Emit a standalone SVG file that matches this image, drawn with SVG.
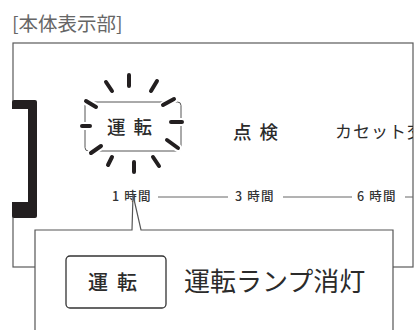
<svg xmlns="http://www.w3.org/2000/svg" width="417" height="330" viewBox="0 0 417 330">
<style>
text{font-family:"Noto Sans CJK JP","Noto Sans",sans-serif;fill:#2b2b2b}
.frame{fill:#fff;stroke:#5a5a5a;stroke-width:1.2}
.ray{stroke:#231f20;stroke-width:4;stroke-linecap:round;fill:none}
.rayw{stroke:#fff;stroke-width:8;stroke-linecap:round;fill:none}
.tl{stroke:#666;stroke-width:1;fill:none}
.lbl{font-size:18.5px;letter-spacing:8px;font-weight:500}
.time{font-size:12.5px;fill:#333;font-weight:500;letter-spacing:1.2px}
</style>
<defs>
<clipPath id="pc"><rect x="13" y="43" width="400" height="224"/></clipPath>
</defs>
<text id="title" x="12" y="31" font-size="19.5" style="fill:#666">[本体表示部]</text>
<g id="panel">
<rect class="frame" x="13" y="43" width="400" height="224"/>
</g>
<g id="bracket">
<rect x="12" y="100" width="25" height="118" rx="2" fill="#231f20"/>
<rect x="12" y="109" width="16" height="93" fill="#fff"/>
</g>
<g id="lamp">
<rect x="85" y="102" width="96" height="49" rx="3.5" fill="none" stroke="#555" stroke-width="1"/>
<g class="rayw">
<path d="M86 101L96 107M82 126H90M91 153L101 146M164 105L174 99M171 122H182M167 140L178 148"/>
</g>
<g class="ray">
<path d="M129 75V86M106 82L112 91M157 81L151 91M86 101L96 107M163 105L174 99M82 126H90M171 122H182M91 153L101 146M167 140L178 148M112 157L108 165M134 162V172M153 157L159 166"/>
</g>
<text class="lbl" x="107" y="134">運転</text>
</g>
<g id="inspect">
<text class="lbl" x="233" y="139">点検</text>
</g>
<g id="cassette" clip-path="url(#pc)">
<text x="335" y="138" font-size="17" letter-spacing="1">カセット交</text>
</g>
<g id="times">
<text class="time" x="112" y="201">1 時間</text>
<text class="time" x="235" y="201">3 時間</text>
<text class="time" x="357" y="201">6 時間</text>
</g>
<g id="connectors">
<path class="tl" d="M158 197H228M283 197H352M405 197H413"/>
</g>
<g id="callout">
<path d="M35 330V230H132L133 195L141 230H393V330" fill="#fff" stroke="#555" stroke-width="1.2"/>
<rect x="66" y="256" width="100" height="52" rx="4" fill="#fff" stroke="#333" stroke-width="1.3"/>
<text x="88" y="290" font-size="20" letter-spacing="9" font-weight="500">運転</text>
<text x="184" y="291" font-size="26" fill="#333">運転ランプ消灯</text>
</g>
</svg>
